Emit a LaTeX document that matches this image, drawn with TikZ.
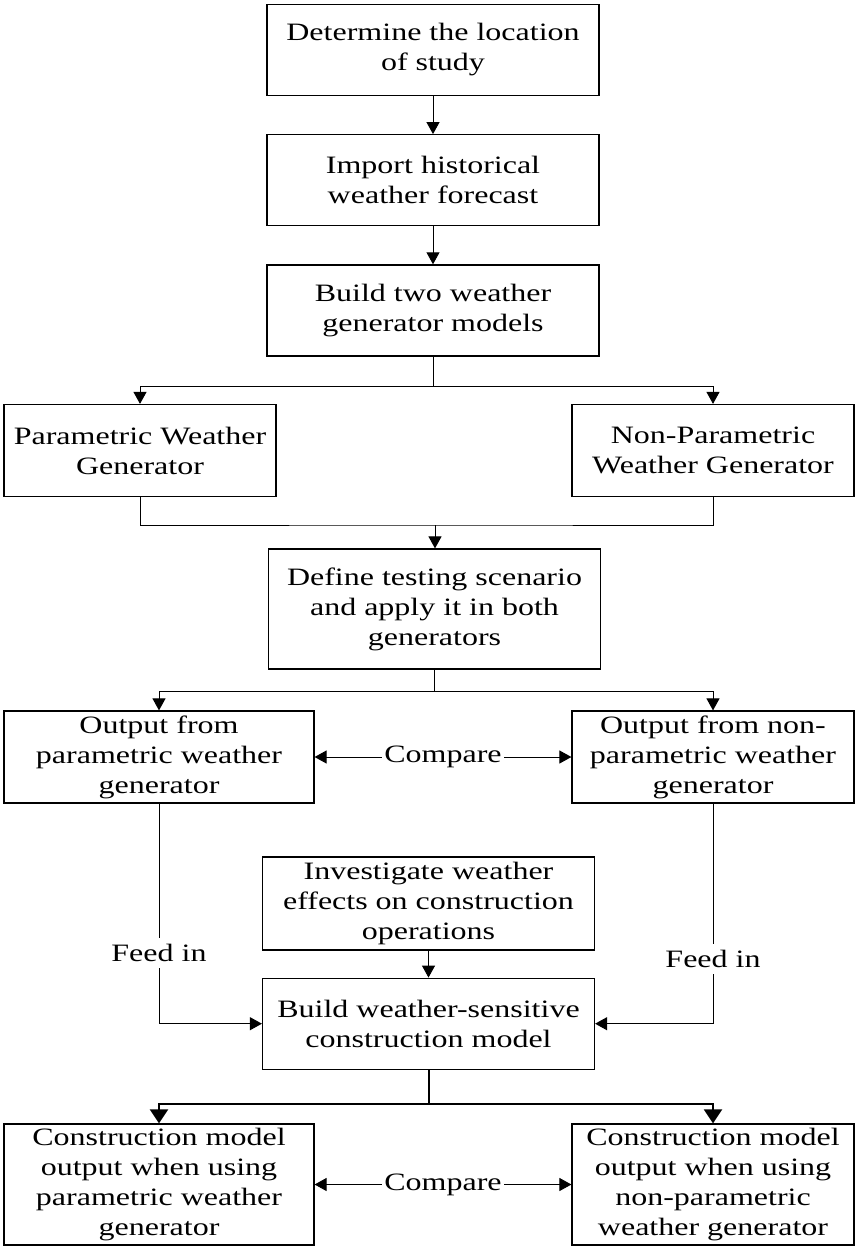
\documentclass[tikz,border=0pt]{standalone}
\usepackage{fontspec}
\setmainfont{Liberation Serif}[FakeStretch=1.28]
\usetikzlibrary{arrows.meta,positioning,calc}

\begin{document}
\begin{tikzpicture}[
  x=0.5pt, y=-0.5pt,
  node distance=19pt,
  box/.style={draw, line width=0.6pt, inner sep=0pt, align=center, font=\fontsize{12.5}{15}\selectfont},
  mid/.style={box, minimum width=166pt, minimum height=45.5pt},
  side/.style={box, minimum width=141pt, minimum height=46pt},
  lbl/.style={inner xsep=1pt, inner ysep=3pt, font=\fontsize{12.5}{15}\selectfont},
  arr/.style={-{Triangle[length=6pt,width=6.5pt]}, line width=0.5pt},
  bigarr/.style={-{Triangle[length=7pt,width=9pt]}, line width=1pt},
  link/.style={line width=0.5pt}
]
\useasboundingbox (0,0) rectangle (855,1247);

\node[mid] (locate) at (433,50) {Determine the location\\of study};
\node[mid, below=of locate] (history) {Import historical\\weather forecast};
\node[mid, below=of history] (models) {Build two weather\\generator models};

\node[side, minimum width=136pt] (pwg) at (140,450.5) {Parametric Weather\\Generator};
\node[side] (npwg) at (713,450.5) {Non-Parametric\\Weather Generator};

\node[mid, minimum height=60pt] (scenario) at (434.5,609) {Define testing scenario\\and apply it in both\\generators};

\node[side, minimum width=155pt] (outp) at (159,757) {Output from\\parametric weather\\generator};
\node[side] (outnp) at (713,757) {Output from non-\\parametric weather\\generator};
\node[lbl] (cmpout) at (443,757) {Compare};

\node[mid, minimum height=46.5pt] (effects) at (428.5,903.5) {Investigate weather\\effects on construction\\operations};
\node[mid, below=13.5pt of effects] (cmodel) {Build weather-sensitive\\construction model};
\node[lbl] (feedp) at (159,953) {Feed in};
\node[lbl] (feednp) at (713,959) {Feed in};

\node[side, minimum width=155pt, minimum height=60.5pt] (resp) at (159,1184.5) {Construction model\\output when using\\parametric weather\\generator};
\node[side, minimum height=60.5pt] (resnp) at (713,1184.5) {Construction model\\output when using\\non-parametric\\weather generator};
\node[lbl] (cmpres) at (443,1184.5) {Compare};

% main column
\draw[arr] (locate) -- (history);
\draw[arr] (history) -- (models);
\draw[arr] (models.south) -- ++(0,30) -| (pwg.north);
\draw[arr] (models.south) -- ++(0,30) -| (npwg.north);

% both generators meet again
\coordinate (meet) at (435,525);
\draw[link] (pwg.south) |- (meet) -| (npwg.south);
\draw[arr] (meet) -- (meet |- scenario.north);
\draw[arr] (scenario.south) -- ++(0,22) -| (outp.north);
\draw[arr] (scenario.south) -- ++(0,22) -| (outnp.north);
\draw[arr] (cmpout) -- (outp);
\draw[arr] (cmpout) -- (outnp);

% feed into the construction model
\draw[link] (outp.south) -- (feedp.north);
\draw[link] (outnp.south) -- (feednp.north);
\draw[arr] (feedp.south) |- (cmodel.west);
\draw[arr] (feednp.south) |- (cmodel.east);
\draw[arr] (effects) -- (cmodel);

% results
\draw[bigarr] (cmodel.south) -- ++(0,34) -| (resp.north);
\draw[bigarr] (cmodel.south) -- ++(0,34) -| (resnp.north);
\draw[arr] (cmpres) -- (resp);
\draw[arr] (cmpres) -- (resnp);
\end{tikzpicture}
\end{document}
